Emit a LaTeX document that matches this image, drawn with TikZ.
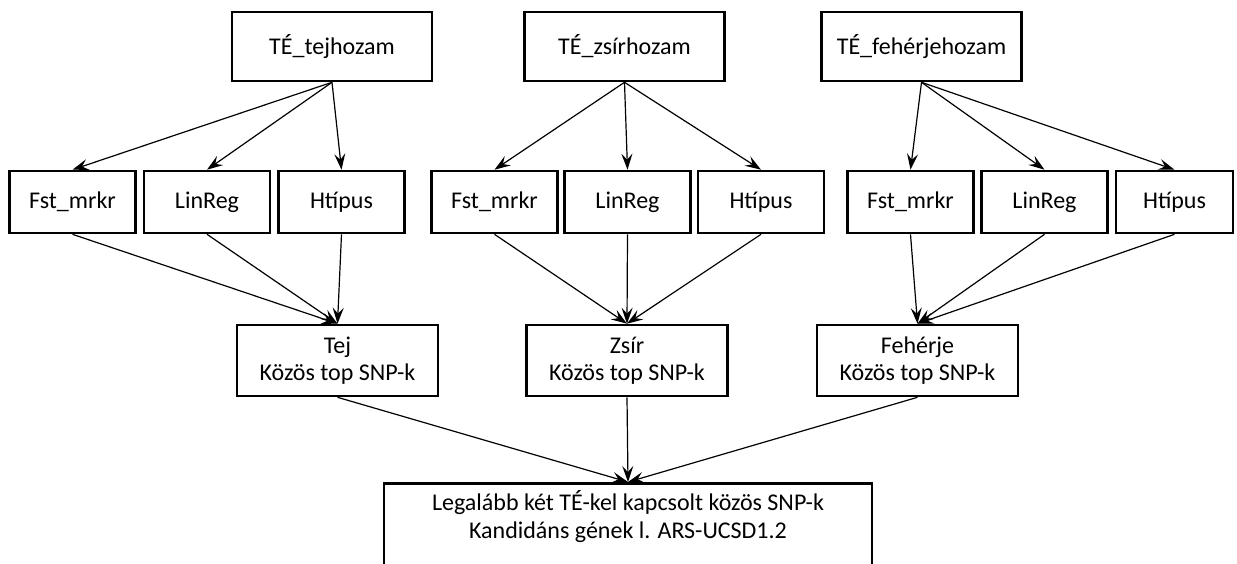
\documentclass[tikz,border=0pt]{standalone}
\usepackage{fontspec}
\setmainfont{Carlito}
\usetikzlibrary{arrows.meta}
\begin{document}
\begin{tikzpicture}[x=0.5pt,y=-0.5pt,
doboz/.style={draw, line width=1.3pt, align=center, inner sep=0pt, font=\fontsize{12}{13.5}\selectfont},
felso/.style={doboz, minimum width=100pt, minimum height=34.5pt},
modszer/.style={doboz, minimum width=63pt, minimum height=31pt},
kozos/.style={doboz, minimum width=100.5pt, minimum height=35.5pt},
nyil/.style={-{Stealth[length=8pt,width=5.5pt,inset=3pt]}, line width=0.6pt}]
\clip (0,0) rectangle (1237,563);
\node[felso] (tejhozam) at (332,46.5) {TÉ\_tejhozam};
\node[felso] (zsirhozam) at (624.5,46.5) {TÉ\_zsírhozam};
\node[felso] (feherjehozam) at (921.5,46.5) {TÉ\_fehérjehozam};
\node[modszer] (fst1) at (72.5,202) {Fst\_mrkr};
\node[modszer] (lin1) at (207,202) {LinReg};
\node[modszer] (ht1) at (341.5,202) {Htípus};
\node[modszer] (fst2) at (494.5,202) {Fst\_mrkr};
\node[modszer] (lin2) at (627.5,202) {LinReg};
\node[modszer] (ht2) at (761,202) {Htípus};
\node[modszer] (fst3) at (910.5,202) {Fst\_mrkr};
\node[modszer] (lin3) at (1044.5,202) {LinReg};
\node[modszer, minimum width=58.5pt] (ht3) at (1174.5,202) {Htípus};
\node[kozos] (tej) at (337.5,360.5) {Tej\\Közös top SNP-k};
\node[kozos] (zsir) at (627,360.5) {Zsír\\Közös top SNP-k};
\node[kozos] (feherje) at (917.5,360.5) {Fehérje\\Közös top SNP-k};
\node[doboz, minimum width=244pt, minimum height=60pt, anchor=north] (osszes) at (628,482) {};
\node[align=center, font=\fontsize{12}{14}\selectfont] (osszesszoveg) at (628,517) {Legalább két TÉ-kel kapcsolt közös SNP-k\\Kandidáns gének l. ARS-UCSD1.2};
\draw[nyil] (tejhozam.south) -- (fst1.north);
\draw[nyil] (tejhozam.south) -- (lin1.north);
\draw[nyil] (tejhozam.south) -- (ht1.north);
\draw[nyil] (zsirhozam.south) -- (fst2.north);
\draw[nyil] (zsirhozam.south) -- (lin2.north);
\draw[nyil] (zsirhozam.south) -- (ht2.north);
\draw[nyil] (feherjehozam.south) -- (fst3.north);
\draw[nyil] (feherjehozam.south) -- (lin3.north);
\draw[nyil] (feherjehozam.south) -- (ht3.north);
\draw[nyil] (fst1.south) -- (tej.north);
\draw[nyil] (lin1.south) -- (tej.north);
\draw[nyil] (ht1.south) -- (tej.north);
\draw[nyil] (fst2.south) -- (zsir.north);
\draw[nyil] (lin2.south) -- (zsir.north);
\draw[nyil] (ht2.south) -- (zsir.north);
\draw[nyil] (fst3.south) -- (feherje.north);
\draw[nyil] (lin3.south) -- (feherje.north);
\draw[nyil] (ht3.south) -- (feherje.north);
\draw[nyil] (tej.south) -- (osszes.north);
\draw[nyil] (zsir.south) -- (osszes.north);
\draw[nyil] (feherje.south) -- (osszes.north);
\end{tikzpicture}
\end{document}
